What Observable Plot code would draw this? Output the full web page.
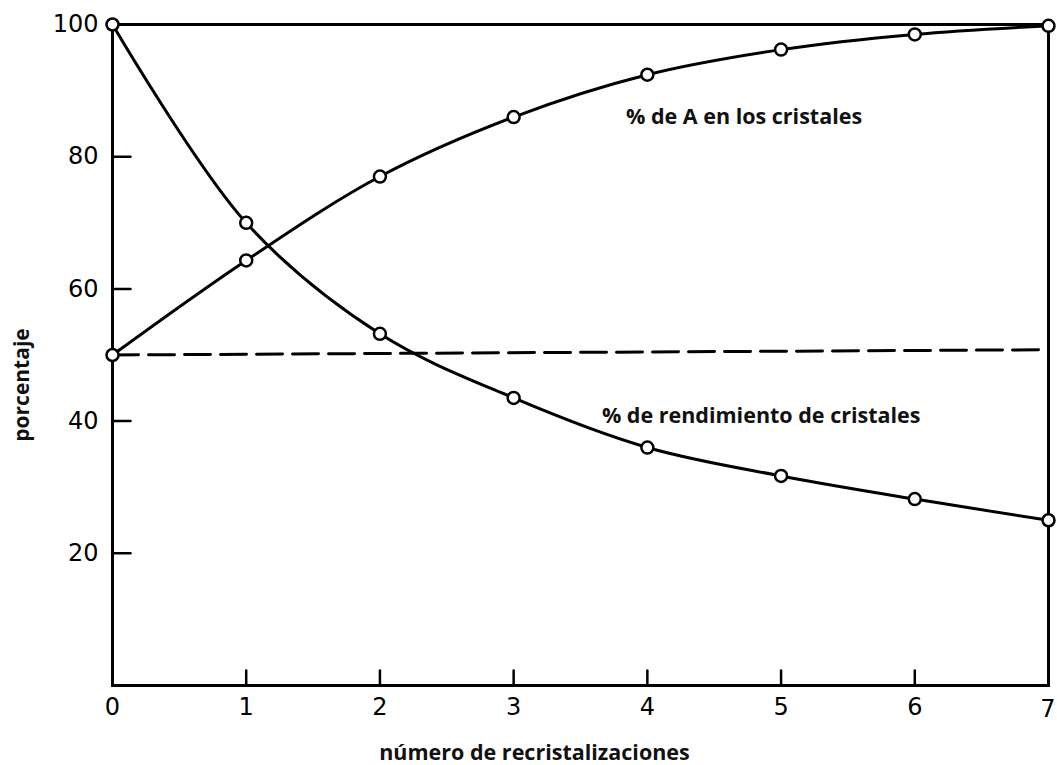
<!DOCTYPE html>
<html>
<head>
<meta charset="utf-8">
<script src="https://cdn.jsdelivr.net/npm/d3@7"></script>
<script src="https://cdn.jsdelivr.net/npm/@observablehq/plot@0.6"></script>
<style>
  html, body { margin: 0; padding: 0; background: #fff; }
  #chart svg { display: block; }
</style>
</head>
<body>
<div id="chart"></div>
<script>
// Data
const recrystallizations = [0, 1, 2, 3, 4, 5, 6, 7];
const purityA = [50, 64.3, 77, 86, 92.4, 96.2, 98.5, 99.8];        // % de A en los cristales
const yieldCrystals = [100, 70, 53.2, 43.5, 36, 31.7, 28.2, 25];    // % de rendimiento de cristales
const referenceLineX = [0, 7];
const referenceLineY = [50, 50.8];
const xTicks = [0, 1, 2, 3, 4, 5, 6, 7];
const yTicks = [20, 40, 60, 80, 100];
const annotationText = ["% de A en los cristales", "% de rendimiento de cristales"];
const annotationX = [3.84, 3.66];
const annotationY = [86, 40.8];

const purityData = recrystallizations.map((x, i) => ({x, y: purityA[i]}));
const yieldData = recrystallizations.map((x, i) => ({x, y: yieldCrystals[i]}));
const refData = referenceLineX.map((x, i) => ({x, y: referenceLineY[i]}));
const annotations = annotationText.map((t, i) => ({t, x: annotationX[i], y: annotationY[i]}));

const stickShape = {draw(context, l) { context.moveTo(0, 0); context.lineTo(0, -l); }};

const chart = Plot.plot({
  width: 1057,
  height: 765,
  marginLeft: 112,
  marginRight: 9,
  marginTop: 24,
  marginBottom: 80,
  style: {fontFamily: "DejaVu Sans", background: "#fff", color: "#000"},
  x: {domain: [0, 7]},
  y: {domain: [0, 100]},
  marks: [
    Plot.frame({stroke: "#000", strokeWidth: 3}),
    Plot.axisY({ticks: yTicks, tickSize: 0, tickPadding: 14, fontSize: 24, label: null}),
    Plot.axisX({ticks: xTicks.slice(0, -1), tickFormat: d => String(d), tickSize: 0, tickPadding: 12, fontSize: 24, label: null}),
    Plot.text(xTicks.slice(-1), {x: d => d, frameAnchor: "bottom", dy: 24, textAnchor: "end", dx: 7, lineAnchor: "middle", text: d => String(d), fontSize: 24, fontFamily: "DejaVu Sans"}),
    Plot.vector(yTicks.slice(0, -1), {x: 0, y: d => d, length: 18, rotate: 90, anchor: "start", shape: stickShape, stroke: "#000", strokeWidth: 2.5}),
    Plot.vector(xTicks.slice(1, -1), {x: d => d, y: 0, length: 15, rotate: 0, anchor: "start", shape: stickShape, stroke: "#000", strokeWidth: 2.5}),
    Plot.line(refData, {x: "x", y: "y", stroke: "#000", strokeWidth: 3, strokeDasharray: "26,10"}),
    Plot.line(purityData, {x: "x", y: "y", curve: "catmull-rom", stroke: "#000", strokeWidth: 3}),
    Plot.line(yieldData, {x: "x", y: "y", curve: "catmull-rom", stroke: "#000", strokeWidth: 3}),
    Plot.dot(purityData, {x: "x", y: "y", r: 6, fill: "#fff", stroke: "#000", strokeWidth: 2.5}),
    Plot.dot(yieldData, {x: "x", y: "y", r: 6, fill: "#fff", stroke: "#000", strokeWidth: 2.5}),
    Plot.text(annotations, {x: "x", y: "y", text: "t", textAnchor: "start", fontSize: 21.5, fontWeight: "bold", fontFamily: "Open Sans", fill: "#111"}),
    Plot.text(["porcentaje"], {frameAnchor: "left", textAnchor: "middle", dx: -90, dy: 30, rotate: -90, fontSize: 21, fontWeight: "bold", fontFamily: "Open Sans", fill: "#111"}),
    Plot.text(["número de recristalizaciones"], {frameAnchor: "bottom", textAnchor: "middle", dy: 74, dx: -46, fontSize: 21.5, fontWeight: "bold", fontFamily: "Open Sans", fill: "#111"})
  ]
});
document.getElementById("chart").appendChild(chart);
</script>
</body>
</html>
